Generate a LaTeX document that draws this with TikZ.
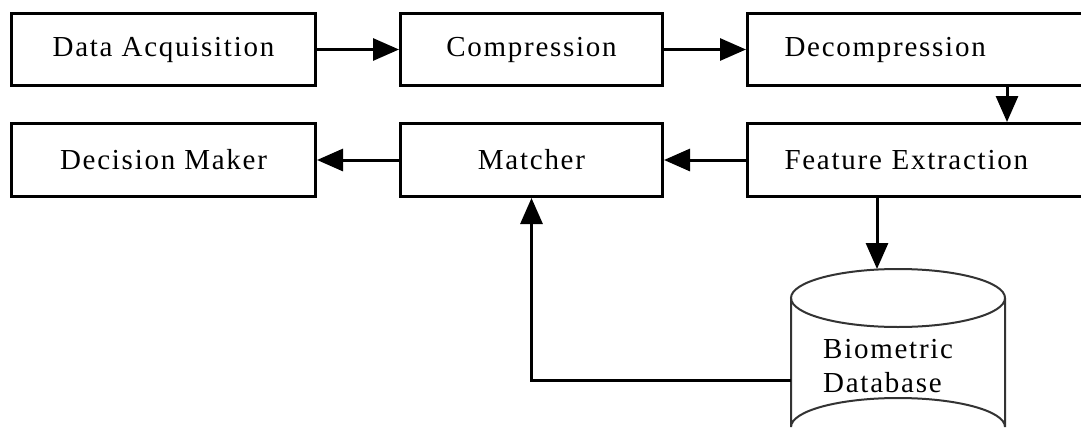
\documentclass[tikz,border=0pt]{standalone}
\usepackage{fontspec}
\setmainfont{Liberation Serif}[LetterSpace=6]
\usetikzlibrary{arrows.meta}
\begin{document}
\begin{tikzpicture}[x=1pt,y=-1pt,
  box/.style={draw, line width=3pt, anchor=north west, minimum height=72pt, inner sep=0pt,
    font=\fontsize{29}{34}\selectfont},
  lbox/.style={box, text width=280pt, inner xsep=37pt, align=left},
  conn/.style={line width=3pt, -{Triangle[length=26pt,width=22pt]}},
  cyl/.style={line width=2pt, draw=black!80}
]
\useasboundingbox (0,0) rectangle (1081,447);
% boxes
\node[box, minimum width=304pt] (da) at (10,12) {Data Acquisition};
\node[box, minimum width=262pt] (comp) at (399,12) {Compression};
\node[lbox] (decomp) at (746,12) {Decompression};
\node[box, minimum width=304pt, minimum height=73pt] (dm) at (10,122) {Decision Maker};
\node[box, minimum width=262pt, minimum height=73pt] (match) at (399,122) {Matcher};
\node[lbox, minimum height=73pt] (fe) at (746,122) {Feature Extraction};
% database cylinder
\draw[cyl] (898,298) ellipse [x radius=107, y radius=29];
\draw[cyl] (791,298) -- (791,427) arc[start angle=180, end angle=360, x radius=107, y radius=29] -- (1005,298);
\node[anchor=north west, inner sep=0pt, align=left, font=\fontsize{29}{34}\selectfont] (db) at (823,339) {Biometric\\Database};
\coordinate (dbtop) at (877,269);
\coordinate (dbleft) at (791,380);
\coordinate (dd) at (1007,0);
% connectors
\draw[conn] (da.east) -- (comp.west);
\draw[conn] (comp.east) -- (decomp.west);
\draw[conn] (decomp.south -| dd) -- (fe.north -| dd);
\draw[conn] (fe.west) -- (match.east);
\draw[conn] (match.west) -- (dm.east);
\draw[conn] (fe.south -| dbtop) -- (dbtop);
\draw[conn] (dbleft) -- (dbleft -| match.south) -- (match.south);
\end{tikzpicture}
\end{document}
